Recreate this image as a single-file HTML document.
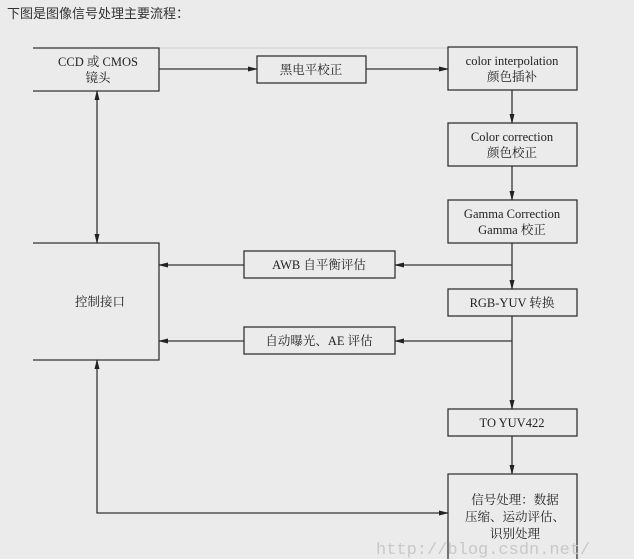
<!DOCTYPE html>
<html><head><meta charset="utf-8"><style>
html,body{margin:0;padding:0;background:#ebebeb;width:634px;height:559px;overflow:hidden}
</style></head><body>
<svg width="634" height="559" xmlns="http://www.w3.org/2000/svg" style="position:absolute;left:0;top:0">
<defs><marker id="a" markerWidth="10" markerHeight="8" refX="9" refY="4" orient="auto" markerUnits="userSpaceOnUse"><path d="M0,1.5 L10,4 L0,6.5 Z" fill="#222"/></marker></defs>
<text x="7" y="18" font-family="Liberation Sans, Noto Sans CJK SC, sans-serif" font-size="13" fill="#333">下图是图像信号处理主要流程：</text>
<line x1="159" y1="48" x2="448" y2="48" stroke="#ccc" stroke-width="1"/>
<g fill="none" stroke="#333" stroke-width="1.3">
<path d="M33,48 H159 V91 H33"/>
<rect x="257" y="56" width="109" height="27"/>
<rect x="448" y="47" width="129" height="43"/>
<rect x="448" y="123" width="129" height="43"/>
<rect x="448" y="200" width="129" height="43"/>
<rect x="448" y="289" width="129" height="27"/>
<rect x="448" y="409" width="129" height="27"/>
<path d="M448,570 V474 H577 V570"/>
<path d="M33,243 H159 V360 H33"/>
<rect x="244" y="251" width="151" height="27"/>
<rect x="244" y="327" width="151" height="27"/>
</g>
<g stroke="#333" stroke-width="1.3" fill="none">
<line x1="159" y1="69" x2="257" y2="69" marker-end="url(#a)"/>
<line x1="366" y1="69" x2="448" y2="69" marker-end="url(#a)"/>
<line x1="512" y1="90" x2="512" y2="123" marker-end="url(#a)"/>
<line x1="512" y1="166" x2="512" y2="200" marker-end="url(#a)"/>
<line x1="512" y1="243" x2="512" y2="289" marker-end="url(#a)"/>
<line x1="512" y1="316" x2="512" y2="409" marker-end="url(#a)"/>
<line x1="512" y1="436" x2="512" y2="474" marker-end="url(#a)"/>
<line x1="512" y1="265" x2="395" y2="265" marker-end="url(#a)"/>
<line x1="244" y1="265" x2="159" y2="265" marker-end="url(#a)"/>
<line x1="512" y1="341" x2="395" y2="341" marker-end="url(#a)"/>
<line x1="244" y1="341" x2="159" y2="341" marker-end="url(#a)"/>
<line x1="97" y1="150" x2="97" y2="91" marker-end="url(#a)"/>
<line x1="97" y1="180" x2="97" y2="243" marker-end="url(#a)"/>
<line x1="97" y1="150" x2="97" y2="180"/>
<line x1="97" y1="430" x2="97" y2="360" marker-end="url(#a)"/>
<path d="M97,430 V513 H448" marker-end="url(#a)"/>
</g>
<g font-family="Liberation Serif, Noto Serif CJK SC, serif" font-size="12.5" fill="#222" text-anchor="middle">
<text x="98" y="66">CCD 或 CMOS</text><text x="98" y="82">镜头</text>
<text x="311" y="74">黑电平校正</text>
<text x="512" y="65">color interpolation</text><text x="512" y="81">颜色插补</text>
<text x="512" y="141">Color correction</text><text x="512" y="157">颜色校正</text>
<text x="512" y="218">Gamma Correction</text><text x="512" y="234">Gamma 校正</text>
<text x="512" y="307">RGB-YUV 转换</text>
<text x="512" y="427">TO YUV422</text>
<text x="319" y="269">AWB 自平衡评估</text>
<text x="319" y="345">自动曝光、AE 评估</text>
<text x="100" y="306">控制接口</text>
<text x="515" y="504">信号处理：数据</text>
<text x="515" y="521">压缩、运动评估、</text>
<text x="515" y="538">识别处理</text>
</g>
<text x="376" y="554" font-family="Liberation Mono, monospace" font-size="17" fill="#c8c8c8">http://blog.csdn.net/</text>
</svg>
</body></html>
